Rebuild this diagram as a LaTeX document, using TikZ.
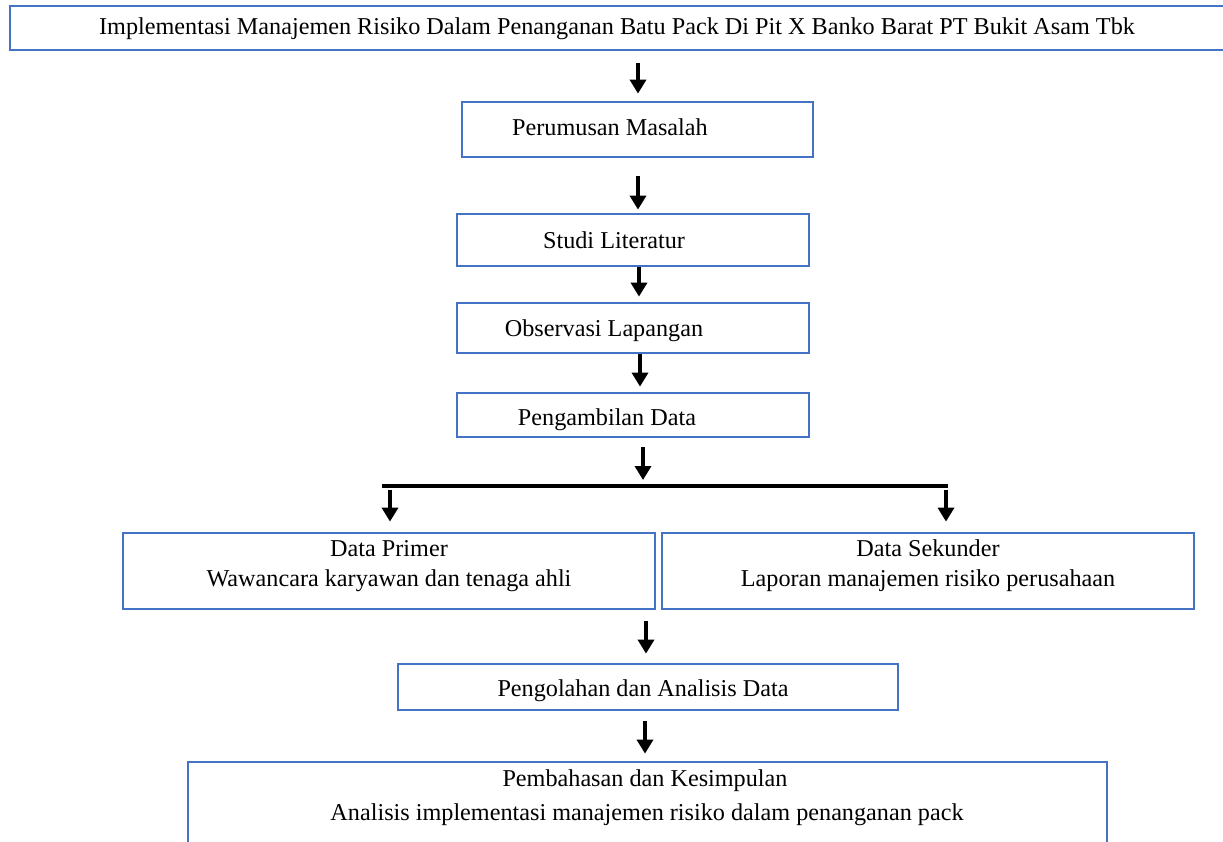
\documentclass[tikz,border=0pt]{standalone}
\usepackage{fontspec}
\setmainfont{Liberation Serif}
\usetikzlibrary{arrows.meta}
\definecolor{boxblue}{HTML}{4472C4}
\tikzset{
  box/.style={draw=boxblue, line width=2.8pt, rectangle, inner sep=0pt, fill=none},
  txt/.style={anchor=base, inner sep=0pt, font=\fontsize{24.2}{28}\selectfont},
  arr/.style={draw=black, line width=3.4pt, -{Triangle[width=16pt,length=14pt]}},
  barline/.style={draw=black, line width=4pt}
}
\begin{document}
\begin{tikzpicture}[x=1pt,y=-1pt]
\useasboundingbox (0,0) rectangle (1223,841);
\fill[white] (0,0) rectangle (1223,841);
\clip (0,0) rectangle (1223,841);
% boxes
\node[box, minimum width=1220pt, minimum height=44pt] (top) at (620,28) {};
\node[box, minimum width=351pt, minimum height=55pt] (per) at (637.5,129.5) {};
\node[box, minimum width=352pt, minimum height=52pt] (stu) at (633,240) {};
\node[box, minimum width=352pt, minimum height=50pt] (obs) at (633,328) {};
\node[box, minimum width=352pt, minimum height=44pt] (peng) at (633,415) {};
\node[box, minimum width=532pt, minimum height=76pt] (prim) at (389,571) {};
\node[box, minimum width=532pt, minimum height=76pt] (sek) at (928,571) {};
\node[box, minimum width=500pt, minimum height=46pt] (pengol) at (648,687) {};
\node[box, minimum width=919pt, minimum height=108pt] (bot) at (647.5,816) {};
% texts
\node[txt] (ttop) at (617,34) {Implementasi Manajemen Risiko Dalam Penanganan Batu Pack Di Pit X Banko Barat PT Bukit Asam Tbk};
\node[txt] (tper) at (610,135) {Perumusan Masalah};
\node[txt] (tstu) at (614,248) {Studi Literatur};
\node[txt] (tobs) at (604,336) {Observasi Lapangan};
\node[txt] (tpeng) at (607,425) {Pengambilan Data};
\node[txt] (tprim1) at (389,556) {Data Primer};
\node[txt] (tprim2) at (389,586) {Wawancara karyawan dan tenaga ahli};
\node[txt] (tsek1) at (928,556) {Data Sekunder};
\node[txt] (tsek2) at (928,586) {Laporan manajemen risiko perusahaan};
\node[txt] (tpengol) at (643,696) {Pengolahan dan Analisis Data};
\node[txt] (tbot1) at (645,786) {Pembahasan dan Kesimpulan};
\node[txt] (tbot2) at (647,820) {Analisis implementasi manajemen risiko dalam penanganan pack};
% bar
\coordinate (barL) at (382,486);
\coordinate (barR) at (948,486);
\draw[barline] (barL) -- (barR);
% arrows
\draw[arr, shorten <=12pt, shorten >=7pt] ([xshift=0.5pt]top.south -| per.north) -- ([xshift=0.5pt]per.north);
\draw[arr, shorten <=18pt, shorten >=3pt] ([xshift=0.5pt]per.south) -- ([xshift=0.5pt]per.south |- stu.north);
\draw[arr, shorten >=5pt] ([xshift=6pt]stu.south) -- ([xshift=6pt]obs.north);
\draw[arr, shorten >=5pt] ([xshift=7pt]obs.south) -- ([xshift=7pt]peng.north);
\draw[arr, shorten <=9pt, shorten >=6pt] ([xshift=10pt]peng.south) -- ([xshift=10pt]peng.south |- barL);
\draw[arr, shorten <=4pt, shorten >=10pt] ([xshift=1pt]barL -| prim.north) -- ([xshift=1pt]prim.north);
\draw[arr, shorten <=4pt, shorten >=10pt] ([xshift=18pt]barL -| sek.north) -- ([xshift=18pt]sek.north);
\draw[arr, shorten <=11pt, shorten >=9pt] ([xshift=-2pt]prim.south -| pengol.north) -- ([xshift=-2pt]pengol.north);
\draw[arr, shorten <=10pt, shorten >=7pt] ([xshift=-3pt]pengol.south) -- ([xshift=-3pt]pengol.south |- bot.north);
\end{tikzpicture}
\end{document}
